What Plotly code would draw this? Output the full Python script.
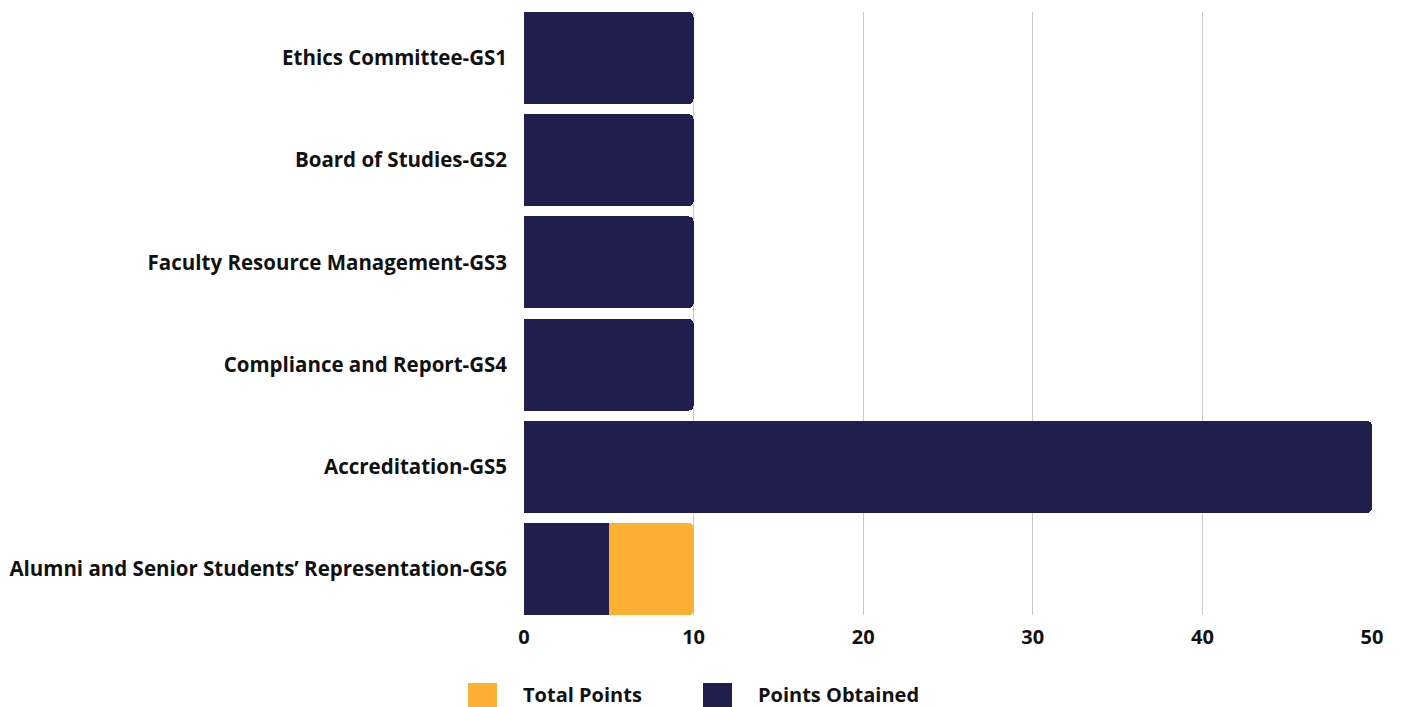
import plotly.graph_objects as go

categories = [
    "Ethics Committee-GS1",
    "Board of Studies-GS2",
    "Faculty Resource Management-GS3",
    "Compliance and Report-GS4",
    "Accreditation-GS5",
    "Alumni and Senior Students’ Representation-GS6",
]
points_obtained = [10, 10, 10, 10, 50, 5]
total_points = [10, 10, 10, 10, 50, 10]
x_ticks = [0, 10, 20, 30, 40, 50]

NAVY = "#1f1e4c"
ORANGE = "#fbb034"
FONT = "Open Sans"

# orange segment shows what is still missing from the total
remaining = [t - o for t, o in zip(total_points, points_obtained)]

fig = go.Figure()

fig.add_trace(
    go.Bar(
        y=categories,
        x=points_obtained,
        orientation="h",
        name="Points Obtained",
        marker=dict(color=NAVY, line=dict(width=0)),
        showlegend=False,
    )
)
fig.add_trace(
    go.Bar(
        y=categories,
        x=remaining,
        orientation="h",
        name="Total Points",
        marker=dict(color=ORANGE, line=dict(width=0)),
        showlegend=False,
    )
)

# legend drawn by hand so the swatches can be as big as in the original
legend_items = [("Total Points", ORANGE, -0.066), ("Points Obtained", NAVY, 0.2111)]
for label, color, x0 in legend_items:
    fig.add_shape(
        type="rect",
        xref="paper",
        yref="paper",
        x0=x0,
        x1=x0 + 0.0342,
        y0=-0.161,
        y1=-0.1128,
        fillcolor=color,
        line=dict(width=0),
    )
    fig.add_annotation(
        x=x0 + 0.0342 + 0.0294,
        y=-0.132,
        xref="paper",
        yref="paper",
        text=f"<b>{label}</b>",
        showarrow=False,
        xanchor="left",
        yanchor="middle",
        borderpad=0,
        font=dict(family=FONT, size=20, color="#111111"),
    )

# page body has an 8px margin, so the figure is 8px smaller and shifted
fig.update_layout(
    barmode="stack",
    bargap=0.1,
    barcornerradius=5,
    width=1394,
    height=699,
    margin=dict(l=516, r=30, t=4, b=92),
    plot_bgcolor="white",
    paper_bgcolor="white",
    font=dict(family=FONT, size=20, color="#111111"),
    xaxis=dict(
        range=[0, 50],
        tickvals=x_ticks,
        ticktext=[f"<b>{v}</b>" for v in x_ticks],
        showgrid=True,
        gridcolor="#c8c8c8",
        gridwidth=1,
        zeroline=False,
        showline=False,
        ticks="",
        ticklen=0,
        ticklabelstandoff=8,
        automargin=False,
        tickfont=dict(family=FONT, size=20, color="#111111"),
    ),
    yaxis=dict(
        range=[5.45, -0.45],
        tickvals=categories,
        ticktext=[f"<b>{c}</b>" for c in categories],
        showgrid=False,
        ticks="",
        ticklabelstandoff=16,
        automargin=False,
        tickfont=dict(family=FONT, size=20.5, color="#111111"),
    ),
)

fig.write_html("out.html")
